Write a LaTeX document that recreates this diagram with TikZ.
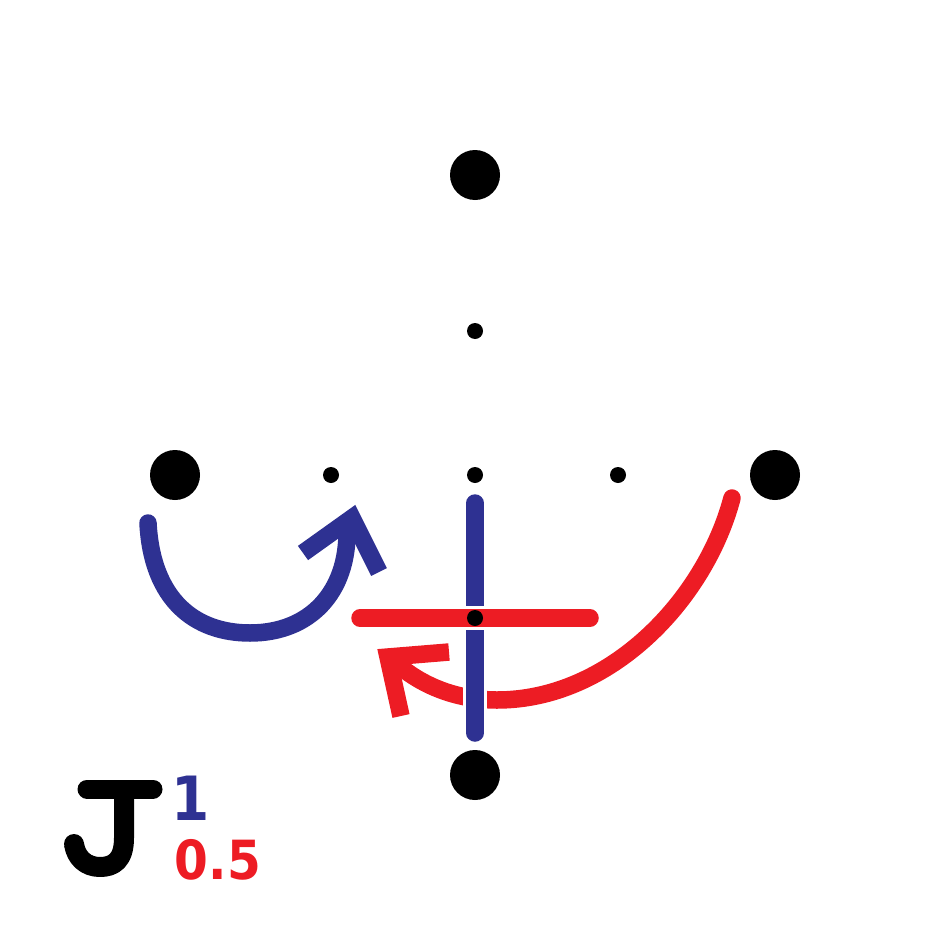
\documentclass[tikz,border=0pt]{standalone}
\usepackage{fontspec}
\newfontfamily\labelfont{DejaVu Sans Condensed}[BoldFont={DejaVu Sans Condensed Bold}]
\definecolor{jblue}{HTML}{2E3192}
\definecolor{jred}{HTML}{ED1C24}
\tikzset{
  bigdot/.style={circle,fill=black,inner sep=0pt,minimum size=50pt},
  smalldot/.style={circle,fill=black,inner sep=0pt,minimum size=16pt},
  thick stroke/.style={line width=17.5pt},
  halo/.style={line width=24pt,draw=white,line cap=round}
}
\begin{document}
\begin{tikzpicture}[x=1pt,y=-1pt]
\useasboundingbox (0,0) rectangle (950,950);
% dots
\node[bigdot] (top) at (475,175) {};
\node[bigdot] (left) at (175,475) {};
\node[bigdot] (right) at (775,475) {};
\node[bigdot] (bottom) at (475,775) {};
\node[smalldot] (s1) at (475,331) {};
\node[smalldot] (s2) at (331,475) {};
\node[smalldot] (s3) at (475,475) {};
\node[smalldot] (s4) at (618,475) {};
% blue curved arrow
\coordinate (ba) at (148,523);
\coordinate (btip) at (352,518);
\draw[jblue,thick stroke,line cap=round] (ba) .. controls (152,600) and (195,633) .. (250,633) .. controls (310,633) and (348,592) .. (347,530);
\draw[jblue,thick stroke,line cap=butt,line join=miter] (303,553) -- (btip) -- (379,572);
% red curved arrow
\coordinate (ra) at (732,498);
\coordinate (rtip) at (388,657);
\draw[jred,thick stroke,line cap=round] (ra) .. controls (705,600) and (610,700) .. (497,700) .. controls (460,700) and (425,688) .. (397,664);
\draw[jred,thick stroke,line cap=butt,line join=miter] (449,652) -- (rtip) -- (401,716);
% blue vertical with halo
\coordinate (vt) at (475,503);
\coordinate (vb) at (475,733);
\draw[halo,line cap=butt] (vt) -- (vb);
\draw[jblue,thick stroke,line cap=round] (vt) -- (vb);
% red horizontal with halo
\coordinate (hl) at (360,618);
\coordinate (hr) at (590,618);
\draw[halo] (hl) -- (hr);
\draw[jred,thick stroke,line cap=round] (hl) -- (hr);
\node[smalldot] (s5) at (475,618) {};
% J glyph
\draw[black,line width=19pt,line cap=round] (87,789) -- (153,789);
\draw[black,line width=20pt,line cap=butt,line join=round] (124,792) -- (124,838) .. controls (124,861) and (113,867) .. (100,867) .. controls (86,867) and (76,858) .. (74,844);
\fill[black] (74,844) circle (10pt);
% labels
\node[anchor=base,inner sep=0pt,text=jblue,font=\labelfont\bfseries\fontsize{61}{61}\selectfont] (one) at (191,820) {1};
\node[anchor=base,inner sep=0pt,text=jred,font=\labelfont\bfseries\fontsize{54}{54}\selectfont] (half) at (218,879) {0.5};
\end{tikzpicture}
\end{document}
